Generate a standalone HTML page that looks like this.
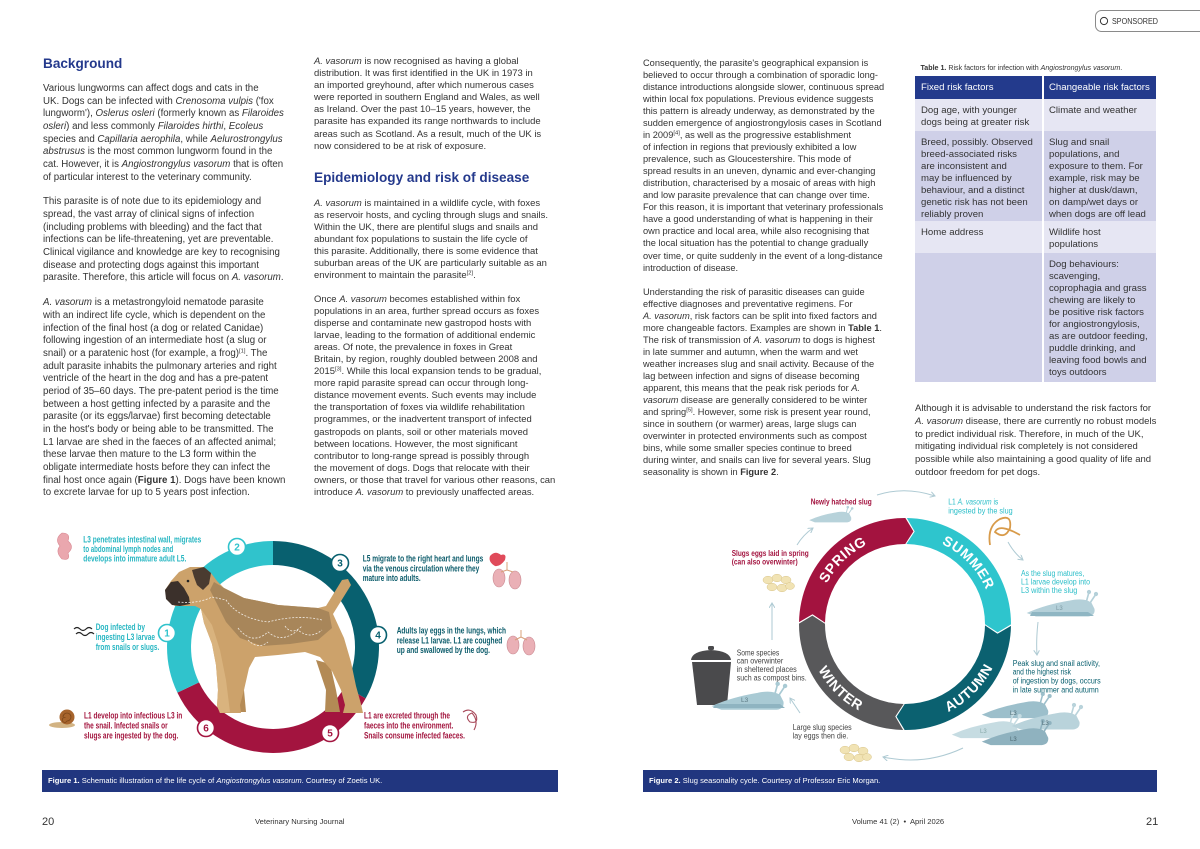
<!DOCTYPE html>
<html><head><meta charset="utf-8">
<style>
*{margin:0;padding:0;box-sizing:border-box}
body{width:1200px;height:849px;position:relative;overflow:hidden;background:#fff;font-family:"Liberation Sans",Arial,sans-serif;color:#333}
.p{position:absolute;white-space:nowrap}
.c1{left:43px;font-size:9.7px;line-height:12.67px}
.c2{left:314px;font-size:9.45px;line-height:12.1px}
.c3{left:643px;font-size:9.25px;line-height:12.06px}
.c4{left:915px;font-size:9.5px;line-height:12.7px}
.h{position:absolute;white-space:nowrap;font-size:13.6px;line-height:16px;font-weight:bold;color:#24398c}
sup{font-size:5.8px;line-height:0;vertical-align:3.5px}
.tb{position:absolute;}
.cell{position:absolute;white-space:nowrap;font-size:9.6px;line-height:12.1px;color:#333}
.cap{position:absolute;white-space:nowrap;font-size:7.6px;line-height:10px;color:#fff}
.ft{position:absolute;white-space:nowrap;color:#333}
</style></head><body>

<!-- Column 1 -->
<div class="h" style="left:43px;top:56px">Background</div>
<div class="p c1" style="top:83px">Various lungworms can affect dogs and cats in the<br>UK. Dogs can be infected with <i>Crenosoma vulpis</i> ('fox<br>lungworm'), <i>Oslerus osleri</i> (formerly known as <i>Filaroides</i><br><i>osleri</i>) and less commonly <i>Filaroides hirthi</i>, <i>Ecoleus</i><br>species and <i>Capillaria aerophila</i>, while <i>Aelurostrongylus</i><br><i>abstrusus</i> is the most common lungworm found in the<br>cat. However, it is <i>Angiostrongylus vasorum</i> that is often<br>of particular interest to the veterinary community.</div>
<div class="p c1" style="top:196.3px">This parasite is of note due to its epidemiology and<br>spread, the vast array of clinical signs of infection<br>(including problems with bleeding) and the fact that<br>infections can be life-threatening, yet are preventable.<br>Clinical vigilance and knowledge are key to recognising<br>disease and protecting dogs against this important<br>parasite. Therefore, this article will focus on <i>A. vasorum</i>.</div>
<div class="p c1" style="top:297.3px"><i>A. vasorum</i> is a metastrongyloid nematode parasite<br>with an indirect life cycle, which is dependent on the<br>infection of the final host (a dog or related Canidae)<br>following ingestion of an intermediate host (a slug or<br>snail) or a paratenic host (for example, a frog)<sup>[1]</sup>. The<br>adult parasite inhabits the pulmonary arteries and right<br>ventricle of the heart in the dog and has a pre-patent<br>period of 35–60 days. The pre-patent period is the time<br>between a host getting infected by a parasite and the<br>parasite (or its eggs/larvae) first becoming detectable<br>in the host's body or being able to be transmitted. The<br>L1 larvae are shed in the faeces of an affected animal;<br>these larvae then mature to the L3 form within the<br>obligate intermediate hosts before they can infect the<br>final host once again (<b>Figure 1</b>). Dogs have been known<br>to excrete larvae for up to 5 years post infection.</div>

<!-- Column 2 -->
<div class="p c2" style="top:56px"><i>A. vasorum</i> is now recognised as having a global<br>distribution. It was first identified in the UK in 1973 in<br>an imported greyhound, after which numerous cases<br>were reported in southern England and Wales, as well<br>as Ireland. Over the past 10–15 years, however, the<br>parasite has expanded its range northwards to include<br>areas such as Scotland. As a result, much of the UK is<br>now considered to be at risk of exposure.</div>
<div class="h" style="left:314px;top:170.3px">Epidemiology and risk of disease</div>
<div class="p c2" style="top:197.5px"><i>A. vasorum</i> is maintained in a wildlife cycle, with foxes<br>as reservoir hosts, and cycling through slugs and snails.<br>Within the UK, there are plentiful slugs and snails and<br>abundant fox populations to sustain the life cycle of<br>this parasite. Additionally, there is some evidence that<br>suburban areas of the UK are particularly suitable as an<br>environment to maintain the parasite<sup>[2]</sup>.</div>
<div class="p c2" style="top:293.5px">Once <i>A. vasorum</i> becomes established within fox<br>populations in an area, further spread occurs as foxes<br>disperse and contaminate new gastropod hosts with<br>larvae, leading to the formation of additional endemic<br>areas. Of note, the prevalence in foxes in Great<br>Britain, by region, roughly doubled between 2008 and<br>2015<sup>[3]</sup>. While this local expansion tends to be gradual,<br>more rapid parasite spread can occur through long-<br>distance movement events. Such events may include<br>the transportation of foxes via wildlife rehabilitation<br>programmes, or the inadvertent transport of infected<br>gastropods on plants, soil or other materials moved<br>between locations. However, the most significant<br>contributor to long-range spread is possibly through<br>the movement of dogs. Dogs that relocate with their<br>owners, or those that travel for various other reasons, can<br>introduce <i>A. vasorum</i> to previously unaffected areas.</div>

<!-- Column 3 -->
<div class="p c3" style="top:56.5px">Consequently, the parasite's geographical expansion is<br>believed to occur through a combination of sporadic long-<br>distance introductions alongside slower, continuous spread<br>within local fox populations. Previous evidence suggests<br>this pattern is already underway, as demonstrated by the<br>sudden emergence of angiostrongylosis cases in Scotland<br>in 2009<sup>[4]</sup>, as well as the progressive establishment<br>of infection in regions that previously exhibited a low<br>prevalence, such as Gloucestershire. This mode of<br>spread results in an uneven, dynamic and ever-changing<br>distribution, characterised by a mosaic of areas with high<br>and low parasite prevalence that can change over time.<br>For this reason, it is important that veterinary professionals<br>have a good understanding of what is happening in their<br>own practice and local area, while also recognising that<br>the local situation has the potential to change gradually<br>over time, or quite suddenly in the event of a long-distance<br>introduction of disease.</div>
<div class="p c3" style="top:285.5px">Understanding the risk of parasitic diseases can guide<br>effective diagnoses and preventative regimens. For<br><i>A. vasorum</i>, risk factors can be split into fixed factors and<br>more changeable factors. Examples are shown in <b>Table 1</b>.<br>The risk of transmission of <i>A. vasorum</i> to dogs is highest<br>in late summer and autumn, when the warm and wet<br>weather increases slug and snail activity. Because of the<br>lag between infection and signs of disease becoming<br>apparent, this means that the peak risk periods for <i>A.</i><br><i>vasorum</i> disease are generally considered to be winter<br>and spring<sup>[5]</sup>. However, some risk is present year round,<br>since in southern (or warmer) areas, large slugs can<br>overwinter in protected environments such as compost<br>bins, while some smaller species continue to breed<br>during winter, and snails can live for several years. Slug<br>seasonality is shown in <b>Figure 2</b>.</div>

<!-- Column 4: table -->
<div class="p" style="left:920.5px;top:62.5px;font-size:7.1px;line-height:10px;color:#333"><b>Table 1.</b> Risk factors for infection with <i>Angiostrongylus vasorum</i>.</div>
<div class="tb" style="left:915px;top:76px;width:241px;height:23px;background:#233a8c"></div>
<div class="tb" style="left:915px;top:99px;width:241px;height:32px;background:#e6e6f3"></div>
<div class="tb" style="left:915px;top:131px;width:241px;height:90px;background:#cfd0e8"></div>
<div class="tb" style="left:915px;top:221px;width:241px;height:32px;background:#e6e6f3"></div>
<div class="tb" style="left:915px;top:253px;width:241px;height:129px;background:#cfd0e8"></div>
<div class="tb" style="left:1042px;top:76px;width:2px;height:306px;background:#fff"></div>
<div class="cell" style="left:921px;top:81.8px;color:#fff">Fixed risk factors</div>
<div class="cell" style="left:1049px;top:81.8px;color:#fff">Changeable risk factors</div>
<div class="cell" style="left:921px;top:104.5px">Dog age, with younger<br>dogs being at greater risk</div>
<div class="cell" style="left:1049px;top:104.5px">Climate and weather</div>
<div class="cell" style="left:921px;top:136.5px">Breed, possibly. Observed<br>breed-associated risks<br>are inconsistent and<br>may be influenced by<br>behaviour, and a distinct<br>genetic risk has not been<br>reliably proven</div>
<div class="cell" style="left:1049px;top:136.5px">Slug and snail<br>populations, and<br>exposure to them. For<br>example, risk may be<br>higher at dusk/dawn,<br>on damp/wet days or<br>when dogs are off lead</div>
<div class="cell" style="left:921px;top:227.2px">Home address</div>
<div class="cell" style="left:1049px;top:227.2px">Wildlife host<br>populations</div>
<div class="cell" style="left:1049px;top:258.5px">Dog behaviours:<br>scavenging,<br>coprophagia and grass<br>chewing are likely to<br>be positive risk factors<br>for angiostrongylosis,<br>as are outdoor feeding,<br>puddle drinking, and<br>leaving food bowls and<br>toys outdoors</div>
<div class="p c4" style="top:403.2px">Although it is advisable to understand the risk factors for<br><i>A. vasorum</i> disease, there are currently no robust models<br>to predict individual risk. Therefore, in much of the UK,<br>mitigating individual risk completely is not considered<br>possible while also maintaining a good quality of life and<br>outdoor freedom for pet dogs.</div>

<!-- caption bars -->
<div class="tb" style="left:42px;top:770px;width:516px;height:22px;background:#21367f"></div>
<div class="cap" style="left:48px;top:776px"><b>Figure 1.</b> Schematic illustration of the life cycle of <i>Angiostrongylus vasorum</i>. Courtesy of Zoetis UK.</div>
<div class="tb" style="left:643px;top:770px;width:514px;height:22px;background:#21367f"></div>
<div class="cap" style="left:649px;top:776px"><b>Figure 2.</b> Slug seasonality cycle. Courtesy of Professor Eric Morgan.</div>

<!-- footer -->
<div class="ft" style="left:42px;top:815px;font-size:11px;line-height:14px">20</div>
<div class="ft" style="left:255px;top:817px;font-size:7.6px;line-height:10px">Veterinary Nursing Journal</div>
<div class="ft" style="left:852px;top:817px;font-size:7.6px;line-height:10px">Volume 41 (2) &nbsp;•&nbsp; April 2026</div>
<div class="ft" style="left:1146px;top:815px;font-size:11px;line-height:14px">21</div>

<svg width="1200" height="849" viewBox="0 0 1200 849" style="position:absolute;left:0;top:0" xmlns="http://www.w3.org/2000/svg" font-family="Liberation Sans, Arial, sans-serif">
<defs>
<marker id="ah" markerWidth="6" markerHeight="6" refX="5" refY="3" orient="auto" markerUnits="userSpaceOnUse">
<path d="M0,0 L5,3 L0,6" fill="none" stroke="#aecad3" stroke-width="1"/>
</marker>
<g id="slug">
<path d="M0,18 Q18,10 42,6 Q56,3 63,8 L66,14 Q67,20 60,21 L8,21 Z"/>
<path d="M58,8 L61,-3 M62,8 L68,-1" stroke-width="1.6" stroke="inherit" fill="none"/>
<circle cx="61" cy="-3" r="1.6"/><circle cx="68" cy="-1" r="1.6"/>
</g>
</defs>

<!-- Sponsored badge -->
<rect x="1095.5" y="10.5" width="120" height="21" rx="6" fill="#fff" stroke="#8a8a8a" stroke-width="1"/>
<circle cx="1104" cy="21" r="3.6" fill="none" stroke="#333" stroke-width="1"/>
<text x="1112" y="24" font-size="7.8" fill="#333" textLength="46" lengthAdjust="spacingAndGlyphs">SPONSORED</text>

<!-- ================= FIGURE 1 ================= -->
<g fill="none" stroke-width="24">
<path d="M273,553 A94,94 0 0 1 355.2,692.6" stroke="#08606f"/>
<path d="M355.2,692.6 A94,94 0 0 1 188.2,687.5" stroke="#a3143f"/>
<path d="M188.2,687.5 A94,94 0 0 1 273,553" stroke="#30c3cc"/>
</g>

<!-- dog -->
<path d="M316,660 L330,664 L336,690 L340,712 L325,712 L326,690 Z" fill="#b38a55"/>
<path d="M232,660 L246,660 L244,690 L246,712 L233,712 L235,690 Z" fill="#b58b56"/>
<path d="M165,590 L171,581 L179,572 L190,567 L203,567 L211,573 L217,581 L224,588 L244,598 L278,605 L318,608 L326,606 L342,580 L348,579 L351,585 L333,614 L344,638 L351,662 L356,686 L361,704 L363,713 L343,713 L345,705 L341,690 L332,671 L320,657 L305,652 L278,655 L255,657 L249,668 L244,690 L240,705 L241,713 L220,713 L217,706 L218,690 L216,665 L212,644 L204,623 L201,609 L195,606 L175,606 L167,599 Z" fill="#cca26b"/>
<path d="M214,582 L224,588 L244,598 L278,605 L318,608 L329,612 L332,628 L318,640 L290,644 L262,646 L240,638 L226,622 L216,602 L210,590 Z" fill="#a8865a"/>
<path d="M201,609 L212,625 L220,650 L226,680 L230,712 L220,713 L217,706 L218,690 L216,665 L212,644 L204,623 Z" fill="#d9b37e"/>
<path d="M165,590 L171,582 L178,581 L184,588 L189,597 L190,604 L180,606 L172,605 L166,599 Z" fill="#3b302b"/>
<path d="M192,570 L204,567 L211,573 L209,584 L203,590 L197,585 L194,577 Z" fill="#4a3b30"/>
<circle cx="188" cy="581" r="1.3" fill="#222"/>
<g fill="none" stroke="#fff" stroke-width="0.8" stroke-dasharray="2 1.5" opacity="0.85">
<path d="M178,602 Q198,604 212,597 L226,600 Q238,618 268,622 Q298,614 322,620"/>
<path d="M238,628 Q252,646 268,632 Q282,644 298,630 Q310,640 322,630"/>
<path d="M248,640 Q258,650 268,642 M285,626 Q292,636 302,626"/>
</g>

<!-- number circles -->
<g stroke-width="1.6" fill="#fff">
<circle cx="167" cy="633" r="8.5" stroke="#30c3cc"/>
<circle cx="237" cy="547" r="8.5" stroke="#30c3cc"/>
<circle cx="340" cy="563" r="8.5" stroke="#08606f"/>
<circle cx="378" cy="635" r="8.5" stroke="#08606f"/>
<circle cx="330" cy="733" r="8.5" stroke="#a3143f"/>
<circle cx="206" cy="728" r="8.5" stroke="#a3143f"/>
</g>
<g font-size="10" font-weight="bold" text-anchor="middle">
<text x="167" y="636.6" fill="#30c3cc">1</text>
<text x="237" y="550.6" fill="#30c3cc">2</text>
<text x="340" y="566.6" fill="#08606f">3</text>
<text x="378" y="638.6" fill="#08606f">4</text>
<text x="330" y="736.6" fill="#a3143f">5</text>
<text x="206" y="731.6" fill="#a3143f">6</text>
</g>

<!-- fig1 labels -->
<g font-size="9" font-weight="bold">
<g fill="#27b6c2">
<text x="83.3" y="542.3" textLength="118" lengthAdjust="spacingAndGlyphs">L3 penetrates intestinal wall, migrates</text>
<text x="83.3" y="552" textLength="90" lengthAdjust="spacingAndGlyphs">to abdominal lymph nodes and</text>
<text x="83.3" y="561.5" textLength="103" lengthAdjust="spacingAndGlyphs">develops into immature adult L5.</text>
<text x="95.7" y="630" textLength="49.3" lengthAdjust="spacingAndGlyphs">Dog infected by</text>
<text x="95.7" y="640" textLength="59.3" lengthAdjust="spacingAndGlyphs">ingesting L3 larvae</text>
<text x="95.7" y="650" textLength="63.6" lengthAdjust="spacingAndGlyphs">from snails or slugs.</text>
</g>
<g fill="#a3163f">
<text x="84" y="718.5" textLength="98.3" lengthAdjust="spacingAndGlyphs">L1 develop into infectious L3 in</text>
<text x="84" y="728.5" textLength="83.7" lengthAdjust="spacingAndGlyphs">the snail. Infected snails or</text>
<text x="84" y="738.5" textLength="94.3" lengthAdjust="spacingAndGlyphs">slugs are ingested by the dog.</text>
<text x="364" y="718.5" textLength="86" lengthAdjust="spacingAndGlyphs">L1 are excreted through the</text>
<text x="364" y="728.5" textLength="89.3" lengthAdjust="spacingAndGlyphs">faeces into the environment.</text>
<text x="364" y="738.5" textLength="101" lengthAdjust="spacingAndGlyphs">Snails consume infected faeces.</text>
</g>
<g fill="#0c5c6b">
<text x="362.7" y="561.5" textLength="120.6" lengthAdjust="spacingAndGlyphs">L5 migrate to the right heart and lungs</text>
<text x="362.7" y="571.5" textLength="116.6" lengthAdjust="spacingAndGlyphs">via the venous circulation where they</text>
<text x="362.7" y="581" textLength="58" lengthAdjust="spacingAndGlyphs">mature into adults.</text>
<text x="396.7" y="633.5" textLength="109.3" lengthAdjust="spacingAndGlyphs">Adults lay eggs in the lungs, which</text>
<text x="396.7" y="643.5" textLength="105.6" lengthAdjust="spacingAndGlyphs">release L1 larvae. L1 are coughed</text>
<text x="396.7" y="653" textLength="93.3" lengthAdjust="spacingAndGlyphs">up and swallowed by the dog.</text>
</g>
</g>

<!-- fig1 icons -->
<path d="M62,533 Q71,533 68,541 Q75,547 68,553 Q71,561 62,559 Q55,552 60,546 Q54,539 62,533Z" fill="#eaa7ae" stroke="#d98a94" stroke-width="0.6"/>
<path d="M74,629 q3,-3 6,0 t6,0 t6,0 M76,634 q3,-3 6,0 t6,0 t6,0" fill="none" stroke="#222" stroke-width="1.2"/>
<ellipse cx="62" cy="725" rx="13" ry="3" fill="#d2b383"/>
<circle cx="67" cy="717" r="7.5" fill="#a7642c"/>
<path d="M67,717 m-4,0 a4,4 0 1 1 4,4 a2.5,2.5 0 1 1 -1.5,-3.5" fill="none" stroke="#7a4518" stroke-width="0.8"/>
<path d="M490,556 Q495,550 501,555 Q507,553 505,560 Q500,567 495,566 Q488,562 490,556Z" fill="#e04a5a"/>
<ellipse cx="499" cy="578" rx="6" ry="9" fill="#eab0b6" stroke="#c98890" stroke-width="0.6"/>
<ellipse cx="515" cy="580" rx="6" ry="9" fill="#eab0b6" stroke="#c98890" stroke-width="0.6"/>
<path d="M507,562 L507,570 M507,570 L501,572 M507,570 L513,572" stroke="#d8a07a" stroke-width="1" fill="none"/>
<ellipse cx="513" cy="645" rx="6" ry="9" fill="#eab0b6" stroke="#c98890" stroke-width="0.6"/>
<ellipse cx="529" cy="646" rx="6" ry="9" fill="#eab0b6" stroke="#c98890" stroke-width="0.6"/>
<path d="M521,630 L521,637 M521,637 L515,640 M521,637 L527,640" stroke="#d8a07a" stroke-width="1" fill="none"/>
<path d="M463,712 Q470,707 476,715 Q479,724 470,722 Q464,716 472,713 Q479,721 474,730" fill="none" stroke="#a8495a" stroke-width="1.1"/>

<!-- ================= FIGURE 2 ================= -->
<path d="M799.02,622.15 A106,106 0 0 1 905.37,518.0 L913.43,531.38 L905.28,544.0 A80,80 0 0 0 825.01,622.60 L812.51,614.28 Z" fill="#a3133f"/>
<path d="M906.85,518.02 A106,106 0 0 1 1011.0,624.37 L997.62,632.43 L985.0,624.28 A80,80 0 0 0 906.40,544.01 L914.72,531.51 Z" fill="#2ec5cd"/>
<path d="M1010.98,625.85 A106,106 0 0 1 904.63,730.0 L896.57,716.62 L904.72,704.0 A80,80 0 0 0 984.99,625.40 L997.49,633.72 Z" fill="#0b6170"/>
<path d="M903.15,729.98 A106,106 0 0 1 799.0,623.63 L812.38,615.57 L825.0,623.72 A80,80 0 0 0 903.60,703.99 L895.28,716.49 Z" fill="#58585a"/>
<path id="pSp" d="M817.05,620.93 A88,88 0 0 1 905,536" fill="none"/>
<path id="pSu" d="M908.07,536.05 A88,88 0 0 1 993,624" fill="none"/>
<path id="pAu" d="M905,722 A98,98 0 0 0 1003,624" fill="none"/>
<path id="pWi" d="M807,624 A98,98 0 0 0 905,722" fill="none"/>
<g font-size="14" font-weight="bold" fill="#fff" letter-spacing="0.6">
<text><textPath href="#pSp" startOffset="50%" text-anchor="middle">SPRING</textPath></text>
<text><textPath href="#pSu" startOffset="50%" text-anchor="middle">SUMMER</textPath></text>
<text><textPath href="#pAu" startOffset="50%" text-anchor="middle">AUTUMN</textPath></text>
<text><textPath href="#pWi" startOffset="50%" text-anchor="middle">WINTER</textPath></text>
</g>

<!-- arrows -->
<g fill="none" stroke="#aecad3" stroke-width="1" marker-end="url(#ah)">
<path d="M877,495 Q905,486 935,496"/>
<path d="M1008,542 Q1014,553 1023,560"/>
<path d="M1038,622 Q1036,640 1037,655"/>
<path d="M963,748 Q925,766 883,757"/>
<path d="M800,713 L790,698"/>
<path d="M772,640 L772,603"/>
<path d="M797,545 Q803,535 813,528"/>
</g>

<!-- fig2 icons -->
<g fill="#b7d2da" stroke="#b7d2da"><use href="#slug" transform="translate(810,509) scale(0.62)"/></g>
<g fill="#b4d0d9" stroke="#b4d0d9"><use href="#slug" transform="translate(1028,595) scale(1)"/></g>
<path d="M1032,612 L1088,612 L1094,616 L1030,616 Z" fill="#8fb6c3"/>
<text x="1056" y="610" font-size="6" fill="#7d9aa4">L3</text>
<!-- compost bin -->
<rect x="708" y="646" width="6" height="4" rx="1.5" fill="#4a4a4c"/>
<path d="M691,660 Q692,651 711,650 Q730,651 731,660 Z" fill="#4a4a4c"/>
<path d="M692,662 L731,662 L727,705 L697,705 Z" fill="#4a4a4c"/>
<g fill="#a9cad4" stroke="#a9cad4"><use href="#slug" transform="translate(713,687) scale(1.06)"/></g>
<path d="M716,704 L780,704 L785,708 L713,708 Z" fill="#8fb4c1"/>
<text x="741" y="702" font-size="6.5" fill="#5d7a84">L3</text>
<!-- slug group -->
<g fill="#9cbfcb" stroke="#9cbfcb"><use href="#slug" transform="translate(983,697) scale(0.98)"/></g>
<g fill="#c6dce2" stroke="#c6dce2"><use href="#slug" transform="translate(953,717) scale(0.98)"/></g>
<g fill="#b9d3db" stroke="#b9d3db"><use href="#slug" transform="translate(1013,708) scale(1)"/></g>
<g fill="#8fb2bf" stroke="#8fb2bf"><use href="#slug" transform="translate(983,724) scale(0.98)"/></g>
<g font-size="6" fill="#4e6a74">
<text x="1010" y="715">L3</text><text x="980" y="733" fill="#8aa">L3</text><text x="1042" y="725">L3</text><text x="1010" y="741">L3</text>
</g>
<!-- worm -->
<path d="M990,545 Q987,526 1000,519 Q1012,514 1010,528 Q1005,540 995,532 Q999,523 1020,535" fill="none" stroke="#d89b4a" stroke-width="1.8"/>
<!-- eggs -->
<g fill="#f1e3b4" stroke="#d9c58a" stroke-width="0.5">
<ellipse cx="768" cy="580" rx="5" ry="3.8"/><ellipse cx="777" cy="578" rx="5" ry="3.8"/><ellipse cx="786" cy="580" rx="5" ry="3.8"/>
<ellipse cx="772" cy="587" rx="5" ry="3.8"/><ellipse cx="782" cy="588" rx="5" ry="3.8"/><ellipse cx="790" cy="586" rx="4.5" ry="3.5"/>
<ellipse cx="845" cy="750" rx="5" ry="3.8"/><ellipse cx="854" cy="748" rx="5" ry="3.8"/><ellipse cx="863" cy="751" rx="5" ry="3.8"/>
<ellipse cx="849" cy="757" rx="5" ry="3.8"/><ellipse cx="859" cy="758" rx="5" ry="3.8"/><ellipse cx="867" cy="757" rx="4.5" ry="3.5"/>
</g>

<!-- fig2 labels -->
<g font-size="8">
<g fill="#a3133f" font-weight="bold">
<text x="810.7" y="504.3" textLength="61" lengthAdjust="spacingAndGlyphs">Newly hatched slug</text>
<text x="731.7" y="556" textLength="77" lengthAdjust="spacingAndGlyphs">Slugs eggs laid in spring</text>
<text x="731.7" y="564.3" textLength="66" lengthAdjust="spacingAndGlyphs">(can also overwinter)</text>
</g>
<g fill="#444">
<text x="736.7" y="655.3" textLength="42.6" lengthAdjust="spacingAndGlyphs">Some species</text>
<text x="736.7" y="663.6" textLength="46.6" lengthAdjust="spacingAndGlyphs">can overwinter</text>
<text x="736.7" y="672" textLength="60" lengthAdjust="spacingAndGlyphs">in sheltered places</text>
<text x="736.7" y="680.3" textLength="70" lengthAdjust="spacingAndGlyphs">such as compost bins.</text>
<text x="792.7" y="730" textLength="59" lengthAdjust="spacingAndGlyphs">Large slug species</text>
<text x="792.7" y="738.6" textLength="55.6" lengthAdjust="spacingAndGlyphs">lay eggs then die.</text>
</g>
<g fill="#2bbec8">
<text x="948.3" y="504.3" textLength="50" lengthAdjust="spacingAndGlyphs">L1 <tspan font-style="italic">A. vasorum</tspan> is</text>
<text x="948.3" y="513.3" textLength="64.4" lengthAdjust="spacingAndGlyphs">ingested by the slug</text>
<text x="1021" y="576" textLength="63.3" lengthAdjust="spacingAndGlyphs">As the slug matures,</text>
<text x="1021" y="584.6" textLength="69" lengthAdjust="spacingAndGlyphs">L1 larvae develop into</text>
<text x="1021" y="593" textLength="56.3" lengthAdjust="spacingAndGlyphs">L3 within the slug</text>
</g>
<g fill="#0b6170">
<text x="1012.7" y="666" textLength="87.3" lengthAdjust="spacingAndGlyphs">Peak slug and snail activity,</text>
<text x="1012.7" y="674.6" textLength="58.3" lengthAdjust="spacingAndGlyphs">and the highest risk</text>
<text x="1012.7" y="683.6" textLength="88" lengthAdjust="spacingAndGlyphs">of ingestion by dogs, occurs</text>
<text x="1012.7" y="692.3" textLength="86" lengthAdjust="spacingAndGlyphs">in late summer and autumn</text>
</g>
</g>
</svg>
</body></html>
